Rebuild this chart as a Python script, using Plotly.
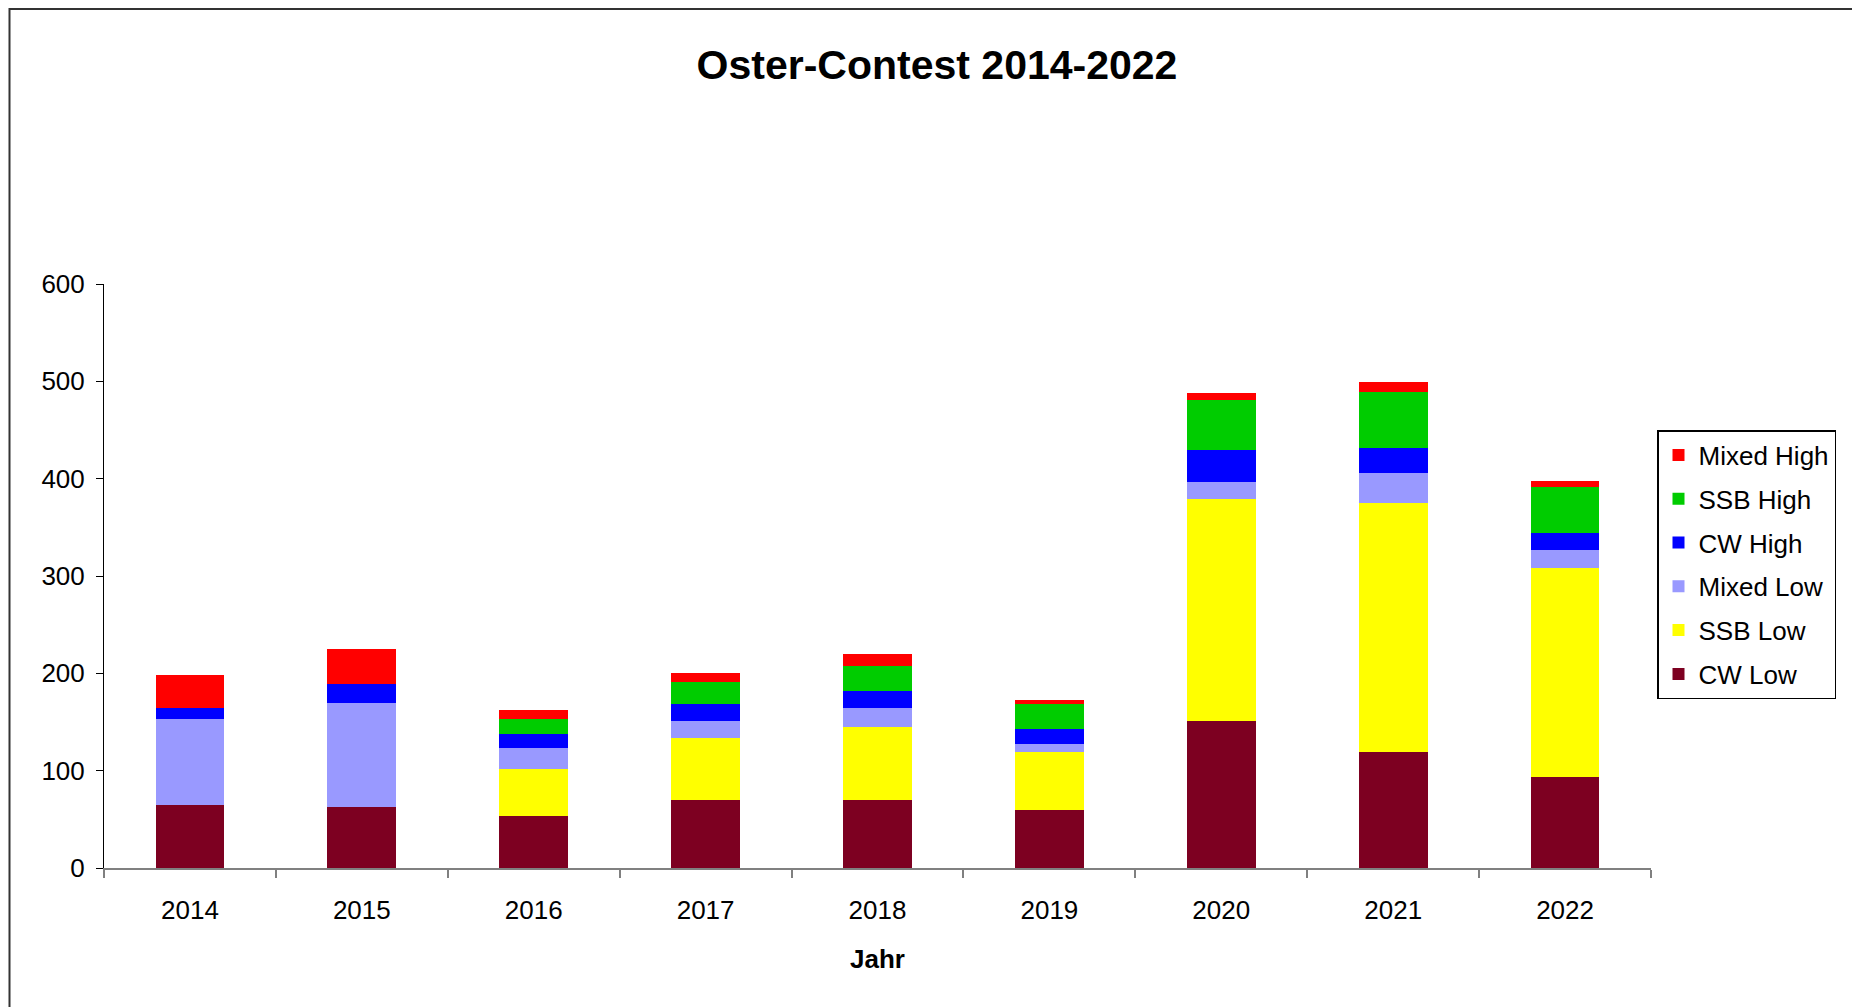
import plotly.graph_objects as go

years = ["2014", "2015", "2016", "2017", "2018", "2019", "2020", "2021", "2022"]

cw_low = [65, 63, 53, 70, 70, 60, 151, 119, 94]
ssb_low = [0, 0, 49, 64, 75, 59, 228, 256, 214]
mixed_low = [88, 107, 21, 17, 19, 8, 18, 31, 19]
cw_high = [11, 19, 15, 17, 18, 16, 32, 25, 17]
ssb_high = [0, 0, 15, 23, 26, 25, 52, 58, 47]
mixed_high = [34, 36, 9, 9, 12, 5, 7, 10, 7]

series = [
    ("CW Low", cw_low, "#7D0021"),
    ("SSB Low", ssb_low, "#FFFF00"),
    ("Mixed Low", mixed_low, "#9999FF"),
    ("CW High", cw_high, "#0000FF"),
    ("SSB High", ssb_high, "#00CC00"),
    ("Mixed High", mixed_high, "#FF0000"),
]

FONT = "Liberation Sans, Arial, sans-serif"

fig = go.Figure()
n = len(series)
for i, (name, vals, col) in enumerate(series):
    fig.add_trace(go.Bar(
        x=years, y=vals, name=name, legendgroup=name, legendrank=n - i,
        marker=dict(color=col, line=dict(width=0)),
    ))

W, H = 1860, 1007
OFF = 8  # page body margin
L, R, T, B = 96, 217, 276, 147
pw, ph = W - L - R, H - T - B

def px_x(x):
    return (x - OFF - L) / pw

def px_y(y):
    return (H - B - (y - OFF)) / ph

fig.update_layout(
    width=W, height=H,
    margin=dict(l=L, r=R, t=T, b=B),
    paper_bgcolor="white", plot_bgcolor="white",
    barmode="stack", bargap=0.6,
    font=dict(family=FONT, size=26, color="black"),
    title=dict(
        text="<b>Oster-Contest 2014-2022</b>",
        font=dict(family=FONT, size=41, color="black"),
        x=(937 - OFF) / W, xref="container", xanchor="center",
        y=1 - (65 - OFF) / H, yref="container", yanchor="middle",
    ),
    xaxis=dict(
        type="category",
        showline=True, linecolor="#808080", linewidth=2,
        ticks="outside", tickson="boundaries", ticklen=8, tickcolor="#808080", tickwidth=1.5,
        showgrid=False, zeroline=False,
        tickfont=dict(size=26),
        ticklabelstandoff=18,
        title=dict(text="<b>Jahr</b>", font=dict(size=26), standoff=26),
    ),
    yaxis=dict(
        range=[0, 600], dtick=100,
        showline=True, linecolor="black", linewidth=1,
        ticks="outside", ticklen=7, tickcolor="black", tickwidth=1,
        showgrid=False, zeroline=False,
        tickfont=dict(size=26),
        ticklabelstandoff=6,
    ),
    legend=dict(
        x=px_x(1657), y=px_y(430), xanchor="left", yanchor="top",
        bordercolor="black", borderwidth=1.5, bgcolor="white",
        traceorder="grouped", tracegroupgap=7,
        font=dict(size=26),
    ),
    shapes=[dict(
        type="rect", xref="paper", yref="paper",
        x0=px_x(9.5), x1=px_x(1858), y0=px_y(1150), y1=px_y(9),
        line=dict(color="#333333", width=2), fillcolor="rgba(0,0,0,0)", layer="below",
    )],
)

fig.write_html("out.html")
